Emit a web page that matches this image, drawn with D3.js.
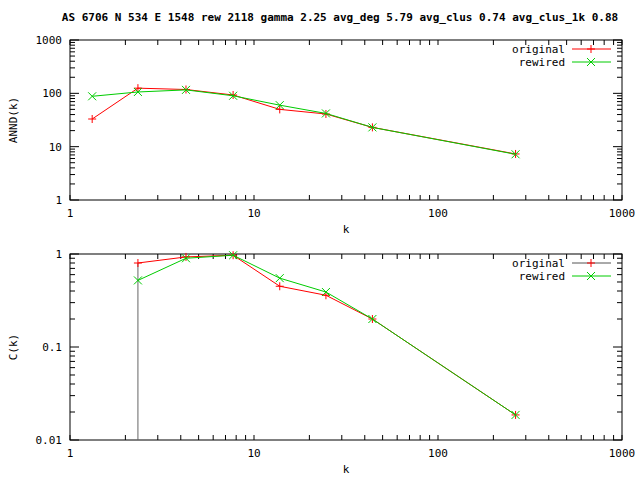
<!DOCTYPE html><html><head><script src="https://cdn.jsdelivr.net/npm/d3@7"></script>
<style>body{margin:0;background:#fff}text{font-family:"DejaVu Sans Mono",monospace;font-size:11px}</style></head><body>
<svg id="c" width="640" height="480"></svg>
<script>
const title="AS 6706 N 534 E 1548 rew 2118 gamma 2.25 avg_deg 5.79 avg_clus 0.74 avg_clus_1k 0.88";
const k=[1.32,2.34,4.27,7.7,13.8,24.6,44,264];
const anndOrig=[33,125,118,93,50,41,23,7.3];
const anndRew=[88,106,116,90,60,42,23,7.2];
const kC=[2.34,4.27,7.7,13.8,24.6,44,264];
const cOrig=[0.8,0.93,0.97,0.45,0.36,0.2,0.0186];
const cRew=[0.52,0.9,0.97,0.55,0.39,0.2,0.0186];
const xTicks=[1,10,100,1000];
const svg=d3.select("#c");
svg.append("text").attr("x",340).attr("y",21).attr("text-anchor","middle").style("font-weight","bold").text(title);
function panel(top,bottom,ydom,yticks,ylab,series,impulse){
  const x=d3.scaleLog().domain([1,1000]).range([70,622]);
  const y=d3.scaleLog().domain(ydom).range([bottom,top]);
  const g=svg.append("g");
  g.append("rect").attr("x",70).attr("y",top).attr("width",552).attr("height",bottom-top).attr("fill","none").attr("stroke","#000");
  const minor=(d0,d1)=>{const r=[];for(let e=Math.log10(d0);e<Math.log10(d1);e++)for(let m=1;m<10;m++)r.push(m*Math.pow(10,e));r.push(d1);return r;};
  minor(1,1000).forEach(v=>{const L=Number.isInteger(Math.log10(v)+1e-9)&&Math.abs(Math.log10(v)-Math.round(Math.log10(v)))<1e-9?9:5;
    g.append("line").attr("x1",x(v)).attr("x2",x(v)).attr("y1",bottom).attr("y2",bottom-L).attr("stroke","#000");
    g.append("line").attr("x1",x(v)).attr("x2",x(v)).attr("y1",top).attr("y2",top+L).attr("stroke","#000");});
  minor(ydom[0],ydom[1]).forEach(v=>{const lg=Math.log10(v);const L=Math.abs(lg-Math.round(lg))<1e-9?9:5;
    g.append("line").attr("x1",70).attr("x2",70+L).attr("y1",y(v)).attr("y2",y(v)).attr("stroke","#000");
    g.append("line").attr("x1",622).attr("x2",622-L).attr("y1",y(v)).attr("y2",y(v)).attr("stroke","#000");});
  xTicks.forEach(v=>g.append("text").attr("x",x(v)).attr("y",bottom+17).attr("text-anchor","middle").text(v));
  yticks.forEach(v=>g.append("text").attr("x",62).attr("y",y(v)+4).attr("text-anchor","end").text(v));
  g.append("text").attr("x",346).attr("y",bottom+33).attr("text-anchor","middle").text("k");
  g.append("text").attr("transform",`translate(17,${(top+bottom)/2}) rotate(-90)`).attr("text-anchor","middle").text(ylab);
  if(impulse){g.append("line").attr("x1",x(impulse[0])).attr("x2",x(impulse[0])).attr("y1",y(impulse[1])).attr("y2",bottom).attr("stroke","#666");}
  series.forEach((s,i)=>{
    const line=d3.line().x((d,j)=>x(s.x[j])).y(d=>y(d));
    g.append("path").attr("d",line(s.y)).attr("fill","none").attr("stroke",s.c);
    s.y.forEach((d,j)=>mark(g,x(s.x[j]),y(d),s.m,s.c));
    const ly=top+9+i*13;
    g.append("text").attr("x",565).attr("y",ly+4).attr("text-anchor","end").text(s.n);
    g.append("line").attr("x1",572).attr("x2",611).attr("y1",ly).attr("y2",ly).attr("stroke",s.lc||s.c);
    mark(g,591,ly,s.m,s.c);
  });
}
function mark(g,cx,cy,m,c){const r=4;
  if(m=="+"){g.append("path").attr("d",`M${cx-r},${cy}H${cx+r}M${cx},${cy-r}V${cy+r}`).attr("stroke",c);}
  else g.append("path").attr("d",`M${cx-r},${cy-r}L${cx+r},${cy+r}M${cx-r},${cy+r}L${cx+r},${cy-r}`).attr("stroke",c);}
panel(40,200,[1,1000],[1,10,100,1000],"ANND(k)",[{n:"original",x:k,y:anndOrig,c:"#f00",m:"+"},{n:"rewired",x:k,y:anndRew,c:"#0c0",m:"x"}]);
panel(254,440,[0.01,1],[0.01,0.1,1],"C(k)",[{n:"original",x:kC,y:cOrig,c:"#f00",m:"+",lc:"#555"},{n:"rewired",x:kC,y:cRew,c:"#0c0",m:"x"}],[2.34,0.8]);
</script></body></html>
